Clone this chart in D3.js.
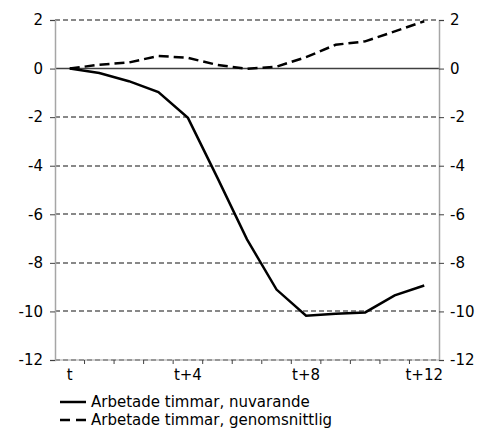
<!DOCTYPE html>
<html>
<head>
<meta charset="utf-8">
<script src="https://cdn.jsdelivr.net/npm/d3@7"></script>
<style>
  body { margin: 0; background: #fff; }
  text { font-family: "DejaVu Sans", Verdana, sans-serif; }
</style>
</head>
<body>
<svg id="chart" width="488" height="429"></svg>
<script>
// Categories t .. t+12
const categories = ["t", "t+1", "t+2", "t+3", "t+4", "t+5", "t+6", "t+7", "t+8", "t+9", "t+10", "t+11", "t+12"];
const shownLabels = ["t", "t+4", "t+8", "t+12"];
const yTicks = [2, 0, -2, -4, -6, -8, -10, -12];

// Series
const nuvarande = [0, -0.18, -0.52, -0.97, -2.03, -4.5, -7.03, -9.1, -10.18, -10.1, -10.04, -9.34, -8.93];
const genomsnitt = [0, 0.16, 0.25, 0.52, 0.44, 0.15, -0.01, 0.08, 0.47, 0.98, 1.12, 1.53, 1.95];

const legendNames = ["Arbetade timmar, nuvarande", "Arbetade timmar, genomsnittlig"];

const svg = d3.select("#chart");
const margin = { top: 20, right: 49, bottom: 69, left: 55 };
const width = +svg.attr("width");
const height = +svg.attr("height");

const x = d3.scaleBand().domain(categories).range([margin.left, width - margin.right]);
const y = d3.scaleLinear().domain([-12, 2]).range([height - margin.bottom, margin.top]);

const fmt = d => String(d); // plain hyphen like the original

// gridlines
svg.append("g")
  .attr("shape-rendering", "crispEdges")
  .selectAll("line")
  .data(yTicks.filter(d => d !== 0))
  .join("line")
  .attr("x1", margin.left)
  .attr("x2", width - margin.right)
  .attr("y1", d => y(d))
  .attr("y2", d => y(d))
  .attr("stroke", "#888")
  .attr("stroke-width", 2)
  .attr("stroke-dasharray", "5,3");

// zero line
svg.append("line")
  .attr("x1", margin.left)
  .attr("x2", width - margin.right)
  .attr("y1", y(0))
  .attr("y2", y(0))
  .attr("stroke", "#404040")
  .attr("stroke-width", 1.5);

// left axis
const leftAxis = svg.append("g")
  .attr("transform", `translate(${margin.left},0)`)
  .call(d3.axisLeft(y).tickValues(yTicks).tickFormat(fmt).tickSize(5).tickPadding(7));

// right axis
const rightAxis = svg.append("g")
  .attr("transform", `translate(${width - margin.right},0)`)
  .call(d3.axisRight(y).tickValues(yTicks).tickFormat(fmt).tickSize(5).tickPadding(6));

// bottom axis, ticks between categories
const bottomAxis = svg.append("g")
  .attr("transform", `translate(0,${y(-12)})`);
bottomAxis.append("line")
  .attr("x1", margin.left)
  .attr("x2", width - margin.right)
  .attr("stroke", "#a6a6a6");
bottomAxis.selectAll(".tk")
  .data(categories.slice(1))
  .join("line")
  .attr("class", "tk")
  .attr("x1", d => x(d))
  .attr("x2", d => x(d))
  .attr("y1", 0)
  .attr("y2", 4)
  .attr("stroke", "#404040");
bottomAxis.selectAll(".lbl")
  .data(shownLabels)
  .join("text")
  .attr("class", "lbl")
  .attr("x", d => x(d) + x.bandwidth() / 2)
  .attr("y", 20)
  .attr("text-anchor", "middle")
  .attr("fill", "#000")
  .style("font-size", "15px")
  .text(d => d);

[leftAxis, rightAxis].forEach(g => {
  g.select(".domain").attr("stroke", "#a6a6a6").attr("stroke-width", 1.5);
  g.selectAll(".tick line").attr("stroke", "#404040");
  g.selectAll(".tick text").attr("fill", "#000").style("font-size", "15px")
    .style("font-family", "DejaVu Sans, Verdana, sans-serif");
});

const line = d3.line()
  .x((d, i) => x(categories[i]) + x.bandwidth() / 2)
  .y(d => y(d));

svg.append("path")
  .datum(genomsnitt)
  .attr("fill", "none")
  .attr("stroke", "#000")
  .attr("stroke-width", 2.5)
  .attr("stroke-dasharray", "10,5")
  .attr("d", line);

svg.append("path")
  .datum(nuvarande)
  .attr("fill", "none")
  .attr("stroke", "#000")
  .attr("stroke-width", 2.5)
  .attr("d", line);

// legend
const legend = svg.append("g").attr("transform", "translate(60,402)");
legendNames.forEach((name, i) => {
  const row = legend.append("g").attr("transform", `translate(0,${i * 18})`);
  row.append("line")
    .attr("x1", 0)
    .attr("x2", 26)
    .attr("stroke", "#000")
    .attr("stroke-width", 2.5)
    .attr("stroke-dasharray", i === 1 ? "10,6" : null);
  row.append("text")
    .attr("x", 31)
    .attr("y", 5)
    .style("font-size", "15px")
    .text(name);
});
</script>
</body>
</html>
